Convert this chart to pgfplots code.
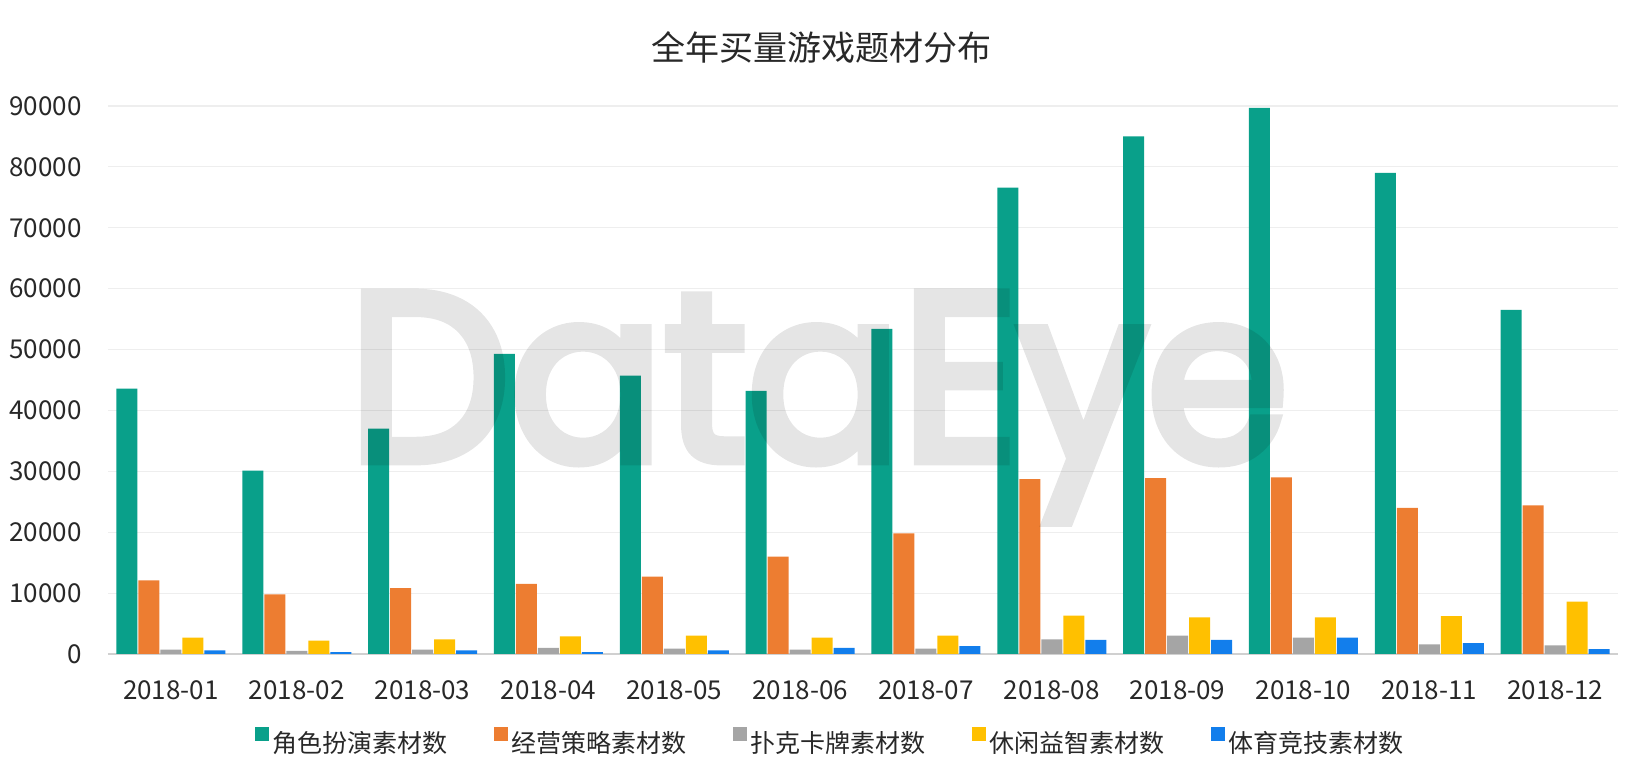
\documentclass[border=0pt]{standalone}
\usepackage{fontspec}
\setmainfont{Noto Sans CJK SC}
\font\wmf="Poppins:embolden=4.5" at 119pt
\usepackage{graphicx}
\usepackage{pgfplots}
\pgfplotsset{compat=1.18}
\definecolor{c1}{RGB}{9,160,138}
\definecolor{c2}{RGB}{237,125,49}
\definecolor{c3}{RGB}{165,165,165}
\definecolor{c4}{RGB}{255,192,0}
\definecolor{c5}{RGB}{18,126,236}
\definecolor{txt}{RGB}{40,40,40}
\definecolor{gridc}{RGB}{238,238,238}
\definecolor{axc}{RGB}{208,208,208}
\begin{document}
\begin{tikzpicture}
\path[use as bounding box] (0,0) rectangle (821pt,390pt);
\node[font=\fontsize{17}{20}\selectfont, text=txt] at (410.5pt,366.5pt) {全年买量游戏题材分布};
\begin{axis}[
  at={(54pt,63pt)}, anchor=south west,
  scale only axis, width=755pt, height=274pt,
  ybar=0.5pt, bar width=10.5pt,
  xmin=-0.5, xmax=11.5, ymin=0, ymax=90000,
  enlargelimits=false,
  xtick={0,...,11},
  xticklabels={2018-01,2018-02,2018-03,2018-04,2018-05,2018-06,2018-07,2018-08,2018-09,2018-10,2018-11,2018-12},
  ytick={0,10000,...,90000},
  scaled y ticks=false,
  /pgf/number format/1000 sep={},
  /pgf/number format/assume math mode=true,
  ymajorgrids, grid style={draw=gridc, line width=0.6pt},
  axis x line=bottom, axis y line=left,
  x axis line style={draw=axc, line width=1pt, -},
  y axis line style={draw=none},
  major tick length=0pt,
  xtick style={draw=none}, ytick style={draw=none},
  tick label style={text=txt, font=\fontsize{13}{15}\selectfont, inner sep=0pt},
  yticklabel style={xshift=-13pt},
  xticklabel style={yshift=-13pt},
  legend columns=5,
  legend style={at={(0.5,0)}, anchor=center, yshift=-44.5pt, xshift=-16pt,
    draw=none, fill=none, font=\fontsize{12.5}{15}\selectfont, text=txt,
    /tikz/every even column/.append style={column sep=21pt}},
  legend image code/.code={\fill[#1] (0pt,1.25pt) rectangle (7pt,8.25pt);},
]
\addplot[fill=c1, draw=none] coordinates {(0,43600) (1,30100) (2,37000) (3,49300) (4,45700) (5,43200) (6,53400) (7,76600) (8,85000) (9,89700) (10,79000) (11,56500)};
\addplot[fill=c2, draw=none] coordinates {(0,12100) (1,9800) (2,10800) (3,11500) (4,12700) (5,16000) (6,19800) (7,28700) (8,28900) (9,29000) (10,24000) (11,24400)};
\addplot[fill=c3, draw=none] coordinates {(0,700) (1,500) (2,700) (3,1000) (4,900) (5,700) (6,900) (7,2400) (8,3000) (9,2700) (10,1600) (11,1400)};
\addplot[fill=c4, draw=none] coordinates {(0,2700) (1,2200) (2,2400) (3,2900) (4,3000) (5,2700) (6,3000) (7,6300) (8,6000) (9,6000) (10,6200) (11,8600)};
\addplot[fill=c5, draw=none] coordinates {(0,600) (1,300) (2,600) (3,300) (4,600) (5,1000) (6,1300) (7,2300) (8,2300) (9,2700) (10,1800) (11,800)};
\legend{角色扮演素材数,经营策略素材数,扑克卡牌素材数,休闲益智素材数,体育竞技素材数}
\end{axis}
\begin{scope}[transparency group, opacity=0.1]
\node[anchor=base west, inner sep=0pt, text=black, font=\wmf] at (174pt,160pt) {\resizebox{470pt}{\height}{DataEye}};
\end{scope}
\end{tikzpicture}
\end{document}
